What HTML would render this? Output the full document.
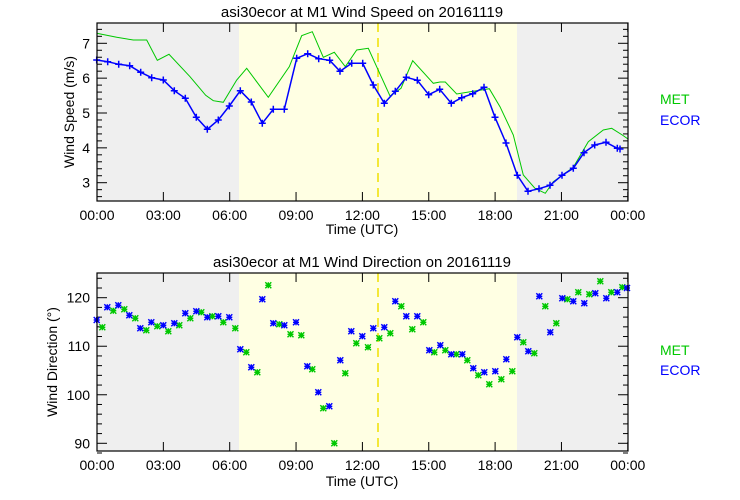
<!DOCTYPE html>
<html><head><meta charset="utf-8"><style>
body{margin:0;background:#fff;}
svg{display:block;font-family:"Liberation Sans","DejaVu Sans",sans-serif;}
</style></head><body>
<svg id="s" width="740" height="500" xmlns="http://www.w3.org/2000/svg">
<rect width="740" height="500" fill="#fff"/>
<rect x="97" y="23" width="142" height="178" fill="#efefef"/>
<rect x="239" y="23" width="278" height="178" fill="#ffffe3"/>
<rect x="517" y="23" width="111" height="178" fill="#efefef"/>
<rect x="97" y="273" width="142" height="178" fill="#efefef"/>
<rect x="239" y="273" width="278" height="178" fill="#ffffe3"/>
<rect x="517" y="273" width="111" height="178" fill="#efefef"/>
<line x1="378" y1="23" x2="378" y2="201" stroke="#f0e000" stroke-width="1.5" stroke-dasharray="9,6"/>
<line x1="378" y1="273" x2="378" y2="451" stroke="#f0e000" stroke-width="1.5" stroke-dasharray="9,6"/>
<g id="ticks" stroke="#000" stroke-width="1"></g>
<polyline fill="none" stroke="#00c800" stroke-width="1" points="96.7,33.3 116.7,37.3 133.3,40 146.7,40 157.3,60.3 169,54.3 190,76.7 205.7,95.3 213.3,100.7 223.3,102.3 236.7,80 246.7,68.3 268.3,97.3 289.3,66.7 301.7,35.7 312.3,31.7 323.3,57.3 334.3,52.3 345.3,66.7 356.7,50 368.3,48.3 390,96 401,88.3 412.7,60.7 433.3,83.3 440,82 445.3,82 456.7,94 473.3,91.3 489.3,88.7 500,106.7 513.3,135 523.3,175 535,188.3 545.3,193.3 553.3,181.7 573.3,167.3 588.3,141.7 603.3,130 611.7,128.3 622.3,135 628,139"/>
<polyline id="blue" fill="none" stroke="#0000ff" stroke-width="1.5" points="96.7,60 107.7,61.7 118.7,64.3 129.7,65.7 140.7,72.3 151.7,77.7 163.3,80 174.3,90.7 185.3,98.3 196.3,117.3 207.3,129.3 218.3,120 229.3,106 240.3,90.7 251.3,102 262.3,123.3 273.3,109.3 284.3,109.3 296.7,58.3 307.7,53.7 318.7,58.7 329.7,60.3 340,71.3 351.7,63.3 362.7,63.3 373.3,85 384.3,103.3 395.3,91.3 406.3,77.3 417.3,80.3 428.7,94.7 439.7,89.3 451.3,103.3 461.7,97.7 472.7,93.7 484,87.3 495,117.3 506,143 517.3,175.3 528,191.3 539,188.7 550,185.3 562,175.3 573.3,168.3 584,152.7 594.7,145 606,142.3 617.3,148.3 620,149"/>
<g id="marks"></g>
<rect x="97" y="23" width="531" height="178" fill="none" stroke="#000" stroke-width="1.2"/>
<rect x="97" y="273" width="531" height="178" fill="none" stroke="#000" stroke-width="1.2"/>
<g font-size="15" fill="#000" text-anchor="middle">
<text x="362" y="17">asi30ecor at M1 Wind Speed on 20161119</text>
<text x="362" y="267">asi30ecor at M1 Wind Direction on 20161119</text>
<text x="362" y="234" font-size="14">Time (UTC)</text>
<text x="362" y="486" font-size="14">Time (UTC)</text>
<text transform="translate(74,112) rotate(-90)" font-size="14">Wind Speed (m/s)</text>
<text transform="translate(57,362) rotate(-90)" font-size="14">Wind Direction (°)</text>
</g>
<g id="labels" font-size="14" fill="#000"></g>
<g font-size="14">
<text x="660" y="104" fill="#00c800">MET</text>
<text x="660" y="125" fill="#0000ff">ECOR</text>
<text x="660" y="355" fill="#00c800">MET</text>
<text x="660" y="375" fill="#0000ff">ECOR</text>
</g>
</svg>
<script>
var NS="http://www.w3.org/2000/svg";
function el(p,t,a,txt){var e=document.createElementNS(NS,t);for(var k in a)e.setAttribute(k,a[k]);if(txt!==undefined)e.textContent=txt;p.appendChild(e);return e;}
var T=document.getElementById('ticks'),L=document.getElementById('labels'),M=document.getElementById('marks');
var xs=["00:00","03:00","06:00","09:00","12:00","15:00","18:00","21:00","00:00"];
[[23,201],[273,451]].forEach(function(b){
 for(var i=0;i<=8;i++){var x=97+i*66.35;
  el(T,'line',{x1:x,x2:x,y1:b[1],y2:b[1]-9});el(T,'line',{x1:x,x2:x,y1:b[0],y2:b[0]+9});
  el(L,'text',{x:x,y:b[1]+19,'text-anchor':'middle'},xs[i]);}
});
function yt(v){return 43.3+(7-v)*34.85;}
for(var v=2.6;v<=7.55;v+=0.2){var y=yt(v);var maj=Math.abs(v-Math.round(v))<0.01;var l=maj?10:5;
 el(T,'line',{x1:97,x2:97+l,y1:y,y2:y});el(T,'line',{x1:628,x2:628-l,y1:y,y2:y});
 if(maj)el(L,'text',{x:90,y:y+5,'text-anchor':'end'},Math.round(v));}
function yb(d){return 297.7+(120-d)*4.853;}
for(var d=88;d<=125;d+=2){var y=yb(d);var maj=d%10==0;var l=maj?10:5;
 el(T,'line',{x1:97,x2:97+l,y1:y,y2:y});el(T,'line',{x1:628,x2:628-l,y1:y,y2:y});
 if(maj)el(L,'text',{x:90,y:y+5,'text-anchor':'end'},d);}
document.getElementById('blue').getAttribute('points').trim().split(/\s+/).forEach(function(p){var c=p.split(',').map(Number);
 el(M,'path',{d:'M'+(c[0]-3.5)+','+c[1]+'h7M'+c[0]+','+(c[1]-3.5)+'v7',stroke:'#0000ff','stroke-width':1.5});});
var B=[[96.7,320],[107.3,307.3],[118.3,305.3],[129.3,315.3],[140.3,328.3],[151.3,322.3],[163.3,325.3],[174.3,323.3],[185.3,313.3],[196.3,311.3],[207.3,317.3],[218.3,316.3],[229.3,317.3],[240.3,349.3],[251.3,367.3],[262.3,299.3],[273.3,323.3],[284.3,325.3],[296,322.3],[307.3,366.3],[318.3,392.3],[329.3,406.3],[340.3,360.3],[351.3,331.3],[362.3,336.3],[373.3,328.3],[384.3,327.3],[395.3,301.3],[406.3,316.3],[417.3,316.3],[429.3,350.3],[440.3,345.3],[451.3,354.3],[462.3,354.3],[473.3,368.3],[484.3,372.3],[495.3,371.3],[506.3,359.3],[517.3,337.3],[528.3,351.3],[539.3,296.3],[550.3,332.3],[562.3,298.3],[573.3,301.3],[584.3,303.3],[595.3,293.3],[606.3,298.3],[617.3,292.3],[627,288]];
var G=[[102.3,327.3],[113.3,310.7],[124.3,309.3],[135.3,318.3],[146.3,330.3],[157.3,326.3],[168.3,331.3],[179.3,325.3],[190.3,318.3],[201.3,312.3],[212.3,316.3],[223.3,322.3],[235.3,328.3],[246.3,352.3],[257.3,372.3],[268.3,285.3],[279.3,324.3],[290.5,334.3],[301.3,335.3],[312.3,369.3],[323.3,408.3],[334.3,443.3],[345.3,373.3],[356.3,343.3],[368,347.3],[379.3,338.3],[390.3,333.3],[401.3,306.3],[412.3,329.3],[423.3,322.3],[434.3,352.3],[445.3,350.3],[456.3,354.3],[467.3,360.3],[478.3,375.3],[489.3,384.3],[501.3,379.3],[512.3,371.3],[523.3,342.3],[534.3,353.3],[545.3,306.3],[556.3,323.3],[567.3,299.3],[578.3,292.3],[589.3,294.3],[600.3,281.3],[611.3,292.3],[622.3,287.3]];
function star(c,col){var x=c[0],y=c[1],r=3;
 el(M,'path',{d:'M'+(x-r)+','+y+'h'+2*r+'M'+x+','+(y-r)+'v'+2*r+'M'+(x-r)+','+(y-r)+'l'+2*r+','+2*r+'M'+(x-r)+','+(y+r)+'l'+2*r+','+(-2*r),stroke:col,'stroke-width':1.4});}
G.forEach(function(c){star(c,'#00c800');});B.forEach(function(c){star(c,'#0000ff');});
</script>
</body></html>
